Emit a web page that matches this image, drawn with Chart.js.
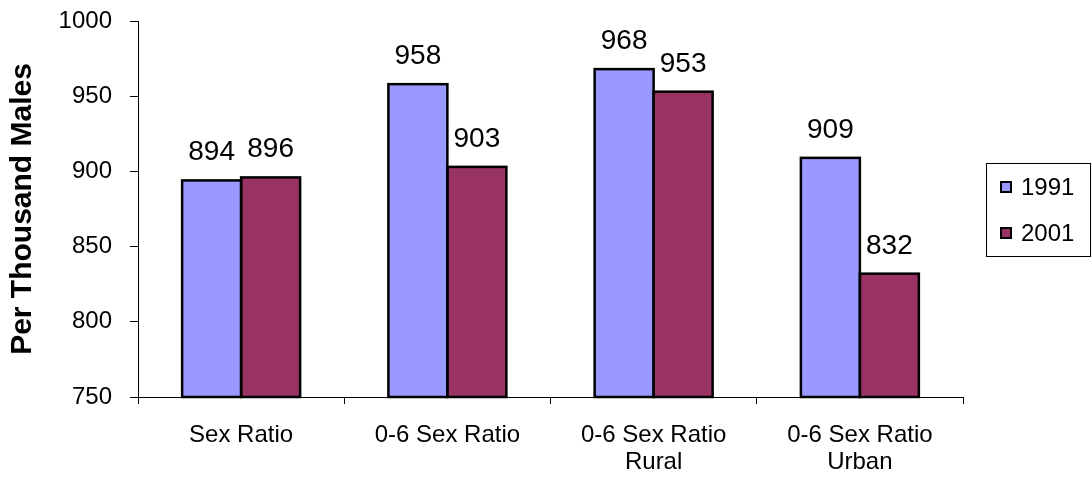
<!DOCTYPE html>
<html lang="en">
<head>
<meta charset="UTF-8">
<title>Sex Ratio 1991 / 2001</title>
<script src="https://cdn.jsdelivr.net/npm/chart.js"></script>
<style>
  body { margin: 0; background: #fff; }
  #chart { display: block; }
</style>
</head>
<body>
<canvas id="chart" width="1092" height="478"></canvas>
<script>
// data
const categories = ['Sex Ratio', '0-6 Sex Ratio', ['0-6 Sex Ratio', 'Rural'], ['0-6 Sex Ratio', 'Urban']];
const seriesNames = ['1991', '2001'];
const values1991 = [894, 958, 968, 909];
const values2001 = [896, 903, 953, 832];
const yTicks = [750, 800, 850, 900, 950, 1000];

const FONT = "'Liberation Sans', Arial, sans-serif";

// black outline centred on the bar edges, plus value labels on top
const barDecor = {
    id: 'barDecor',
    afterDatasetsDraw(chart) {
        const ctx = chart.ctx;
        const bottom = chart.chartArea.bottom;
        ctx.save();
        chart.data.datasets.forEach((ds, i) => {
            chart.getDatasetMeta(i).data.forEach((bar, j) => {
                const p = bar.getProps(['x', 'y', 'base', 'width'], true);
                const base = Math.min(p.base, bottom);
                ctx.strokeStyle = '#000';
                ctx.lineWidth = 2.5;
                ctx.strokeRect(p.x - p.width / 2, p.y, p.width, base - p.y);
                ctx.fillStyle = '#000';
                ctx.font = '28px ' + FONT;
                ctx.textAlign = 'center';
                ctx.textBaseline = 'alphabetic';
                ctx.fillText(ds.data[j], p.x, p.y - 20);
            });
        });
        ctx.restore();
    }
};

// boxed legend on the right, like the original
const boxLegend = {
    id: 'boxLegend',
    afterDraw(chart) {
        const ctx = chart.ctx;
        ctx.save();
        ctx.strokeStyle = '#000';
        ctx.lineWidth = 1;
        ctx.strokeRect(986.5, 163.5, 104, 93);
        chart.data.datasets.forEach((ds, i) => {
            const cy = 187 + i * 46;
            ctx.fillStyle = ds.backgroundColor;
            ctx.fillRect(1001, cy - 5, 10, 10);
            ctx.lineWidth = 2;
            ctx.strokeRect(1001, cy - 5, 10, 10);
            ctx.fillStyle = '#000';
            ctx.font = '24px ' + FONT;
            ctx.textAlign = 'left';
            ctx.textBaseline = 'middle';
            ctx.fillText(ds.label, 1021, cy + 1);
        });
        ctx.restore();
    }
};

new Chart(document.getElementById('chart'), {
    type: 'bar',
    data: {
        labels: categories,
        datasets: [
            { label: seriesNames[0], data: values1991, backgroundColor: '#9999ff', borderWidth: 0 },
            { label: seriesNames[1], data: values2001, backgroundColor: '#993366', borderWidth: 0 }
        ]
    },
    options: {
        responsive: false,
        animation: false,
        events: [],
        categoryPercentage: 0.572,
        barPercentage: 1,
        layout: { padding: { top: 21, right: 129, bottom: 0, left: 0 } },
        plugins: {
            legend: { display: false },
            tooltip: { enabled: false }
        },
        scales: {
            x: {
                afterFit: s => { s.height = 81; s.paddingLeft = 0; s.paddingRight = 0; },
                grid: { drawOnChartArea: false, drawTicks: true, tickLength: 7, color: '#000', offset: true },
                border: { display: true, color: '#000', width: 1 },
                ticks: {
                    color: '#000',
                    padding: 18,
                    maxRotation: 0,
                    font: { family: FONT, size: 24, lineHeight: 1.13 }
                }
            },
            y: {
                min: 750,
                max: 1000,
                afterFit: s => { s.width = 138; s.paddingTop = 0; s.paddingBottom = 0; },
                afterBuildTicks: s => { s.ticks = yTicks.map(v => ({ value: v })); },
                grid: { drawOnChartArea: false, drawTicks: true, tickLength: 8, color: '#000' },
                border: { display: true, color: '#000', width: 1 },
                ticks: {
                    color: '#000',
                    padding: 18,
                    font: { family: FONT, size: 24 },
                    callback: v => String(v)
                },
                title: {
                    display: true,
                    text: 'Per Thousand Males',
                    color: '#000',
                    padding: { top: 5, bottom: 0 },
                    font: { family: FONT, size: 30, weight: 'bold' }
                }
            }
        }
    },
    plugins: [barDecor, boxLegend]
});
</script>
</body>
</html>
